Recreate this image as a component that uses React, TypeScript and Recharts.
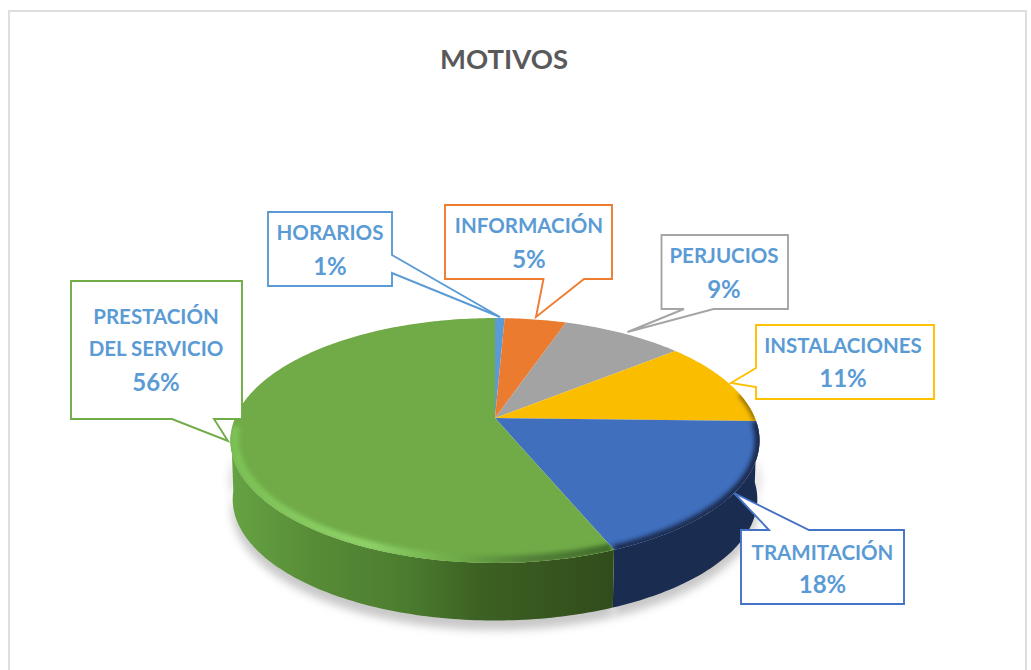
import React from "react";
import { PieChart, Pie } from "recharts";

const categories = ["HORARIOS", "INFORMACIÓN", "PERJUCIOS", "INSTALACIONES", "TRAMITACIÓN", "PRESTACIÓN DEL SERVICIO"];
const values = [0.7, 4.5, 8.9, 11.3, 18.4, 56.2];
const labelLines = [["HORARIOS"], ["INFORMACIÓN"], ["PERJUCIOS"], ["INSTALACIONES"], ["TRAMITACIÓN"], ["PRESTACIÓN", "DEL SERVICIO"]];
const topColors = ["#5B9BD5", "#EA7B2F", "#A3A3A3", "#FABD00", "#406FBE", "#70AB47"];
const borderColors = ["#5B9BD5", "#ED7D31", "#A5A5A5", "#FFC000", "#4472C4", "#70AD47"];
const tableData = categories.map((name, i) => ({ name, value: values[i] }));

// Callout geometry (layout only, not data)
const callouts = [
  { box: [268, 212, 392, 286], ptr: [[392, 273], [500, 317], [392, 255]], tx: 330, ty: [232, 265] },
  { box: [445, 205, 612, 279], ptr: [[584, 279], [536, 317], [543.5, 279]], tx: 529, ty: [225, 258] },
  { box: [661.5, 235, 788, 309], ptr: [[713.6, 309], [627.5, 332], [684, 309]], tx: 724, ty: [255, 288] },
  { box: [756, 325, 934, 399], ptr: [[756, 368], [731, 383], [756, 387]], tx: 843, ty: [345, 377] },
  { box: [741, 530, 904, 604], ptr: [[769, 530], [734, 493], [809, 530]], tx: 822.5, ty: [552, 583] },
  { box: [71, 281, 242, 419], ptr: [[214, 419], [228, 441], [172, 419]], tx: 156, ty: [316, 348, 381] },
];

const K = 0.1837;
const YRATIO = 0.455;
const DEPTH = 59;
const VIS0 = 100.6;
const VIS1 = 259.4;

function proj(cx: number, cy: number, R: number, a: number, r = 1): [number, number] {
  const t = (a * Math.PI) / 180;
  const X = r * Math.sin(t);
  const Y = -r * Math.cos(t);
  const w = 1 - K * Y;
  return [cx + (R * X) / w, cy + (R * YRATIO * Y) / w];
}

function arc(cx: number, cy: number, R: number, a0: number, a1: number, r = 1, dy = 0): [number, number][] {
  const pts: [number, number][] = [];
  const n = Math.max(2, Math.ceil(Math.abs(a1 - a0)));
  for (let i = 0; i <= n; i++) {
    const p = proj(cx, cy, R, a0 + ((a1 - a0) * i) / n, r);
    pts.push([p[0], p[1] + dy]);
  }
  return pts;
}

const toPath = (pts: [number, number][], close = false) =>
  pts.map((p, i) => `${i ? "L" : "M"}${p[0].toFixed(2)},${p[1].toFixed(2)}`).join("") + (close ? "Z" : "");

const ShadowShape = (props: any) => {
  const { cx, cy, outerRadius, startAngle, endAngle, index } = props;
  const a0 = Math.max(90 - startAngle, VIS0 - 10);
  const a1 = Math.min(90 - endAngle, VIS1 + 10);
  if (a1 <= a0) return null;
  const top = arc(cx, cy, outerRadius, a0, a1, 1, DEPTH - 20);
  const bottom = arc(cx, cy, outerRadius, a1, a0, 0.995, DEPTH + 9);
  return (
    <g>
      <defs>
        <filter id={`shadowBlur${index}`} x="-20%" y="-20%" width="140%" height="140%">
          <feGaussianBlur stdDeviation="4" />
        </filter>
      </defs>
      <path d={toPath([...top, ...bottom], true)} fill="#c8c8c8" stroke="none" filter={`url(#shadowBlur${index})`} />
    </g>
  );
};

const WallShape = (props: any) => {
  const { cx, cy, outerRadius, startAngle, endAngle, index } = props;
  const a0 = Math.max(90 - startAngle, VIS0 - 8);
  const a1 = Math.min(90 - endAngle, VIS1 + 4);
  if (a1 <= a0) return null;
  const top = arc(cx, cy, outerRadius, a0, a1, 1, 0);
  const bottom = arc(cx, cy, outerRadius, a1, a0, 0.992, DEPTH);
  const isGreen = index === 5;
  return (
    <g>
      <defs>
        <linearGradient id={`wall${index}`} gradientUnits="userSpaceOnUse" x1="230" y1="0" x2="615" y2="0">
          {isGreen ? (
            <>
              <stop offset="0" stopColor="#66A343" />
              <stop offset="0.22" stopColor="#578C37" />
              <stop offset="0.45" stopColor="#4C7D2F" />
              <stop offset="0.65" stopColor="#3C6123" />
              <stop offset="1" stopColor="#314C1B" />
            </>
          ) : (
            <stop offset="0" stopColor="#1A2C50" />
          )}
        </linearGradient>
      </defs>
      <path d={toPath([...top, ...bottom], true)} fill={`url(#wall${index})`} stroke="none" />
    </g>
  );
};

const TopShape = (props: any) => {
  const { cx, cy, outerRadius, startAngle, endAngle, index } = props;
  const a0 = 90 - startAngle;
  const a1 = 90 - endAngle;
  const rim = arc(cx, cy, outerRadius, a0, a1);
  const d = toPath([[cx, cy], ...rim], true);
  const b0 = Math.max(a0, 78);
  const b1 = Math.min(a1, 266);
  const hasBand = b1 > b0;
  return (
    <g>
      <defs>
        <clipPath id={`topClip${index}`}>
          <path d={d} />
        </clipPath>
        <filter id={`bandBlur${index}`} filterUnits="userSpaceOnUse" x="150" y="250" width="700" height="400">
          <feGaussianBlur stdDeviation="2.2" />
        </filter>
        <linearGradient id={`band${index}`} gradientUnits="userSpaceOnUse" x1="230" y1="0" x2="760" y2="0">
          {index === 5 ? (
            <>
              <stop offset="0" stopColor="#7CC155" />
              <stop offset="0.26" stopColor="#8FD268" />
              <stop offset="0.42" stopColor="#6FAE49" />
              <stop offset="0.55" stopColor="#55843A" />
              <stop offset="0.72" stopColor="#3F6A28" />
            </>
          ) : index === 4 ? (
            <>
              <stop offset="0" stopColor="#1F3560" />
              <stop offset="1" stopColor="#1A2C50" />
            </>
          ) : (
            <>
              <stop offset="0" stopColor="#8A6C00" />
              <stop offset="1" stopColor="#8A6C00" />
            </>
          )}
        </linearGradient>
      </defs>
      <path d={d} fill={topColors[index]} stroke="none" />
      {hasBand && (
        <g clipPath={`url(#topClip${index})`}>
          <path
            d={toPath(arc(cx, cy, outerRadius, b0, b1, index === 5 ? 0.985 : 1.0))}
            fill="none"
            stroke={`url(#band${index})`}
            strokeWidth={index === 5 ? 9 : index === 4 ? 10 : 5}
            filter={`url(#bandBlur${index})`}
          />
        </g>
      )}
    </g>
  );
};

const CalloutLabel = (props: any) => {
  const { index, value } = props;
  const c = callouts[index];
  const [x0, y0, x1, y1] = c.box;
  const stroke = borderColors[index];
  const [p1, tip, p3] = c.ptr;
  // Walk the box clockwise, splicing the pointer into the proper side
  let pts: number[][];
  if (p1[1] === y1 && p3[1] === y1) {
    pts = [[x0, y0], [x1, y0], [x1, y1], p1, tip, p3, [x0, y1]];
  } else if (p1[0] === x1) {
    pts = [[x0, y0], [x1, y0], p3, tip, p1, [x1, y1], [x0, y1]];
  } else if (p1[0] === x0) {
    pts = [[x0, y0], [x1, y0], [x1, y1], [x0, y1], p3, tip, p1];
  } else {
    pts = [[x0, y0], p1, tip, p3, [x1, y0], [x1, y1], [x0, y1]];
  }
  const lines = [...labelLines[index], `${Math.round(value)}%`];
  return (
    <g>
      <path d={toPath(pts as [number, number][], true)} fill="#fff" stroke={stroke} strokeWidth={1.9} strokeLinejoin="miter" />
      {lines.map((t, i) => (
        <text
          key={i}
          x={c.tx}
          y={c.ty[i]}
          textAnchor="middle"
          dominantBaseline="central"
          fontFamily="Lato, 'Open Sans', sans-serif"
          fontWeight={700}
          fontSize={i === lines.length - 1 ? 24 : 20.5}
          fill="#5B9BD5"
        >
          {t}
        </text>
      ))}
    </g>
  );
};

export default function App() {
  const common = {
    data: tableData,
    dataKey: "value",
    nameKey: "name",
    cx: 495,
    cy: 418,
    outerRadius: 260,
    startAngle: 90,
    endAngle: -270,
    isAnimationActive: false,
    labelLine: false,
    stroke: "none",
  };
  return (
    <div style={{ position: "absolute", left: 0, top: 0, width: 1031, height: 670, overflow: "hidden", background: "#fff" }}>
      <div style={{ position: "absolute", left: 8, top: 10, width: 1019, height: 680, border: "2px solid #dedede", boxSizing: "border-box" }} />
      <div
        style={{
          position: "absolute",
          left: 0,
          width: 1008,
          top: 40,
          textAlign: "center",
          fontFamily: "Lato, 'Open Sans', sans-serif",
          fontWeight: 700,
          fontSize: 27.5,
          lineHeight: "38px",
          color: "#595959",
        }}
      >
        MOTIVOS
      </div>
      <div style={{ position: "absolute", left: 0, top: 0 }}>
        <PieChart width={1031} height={670} margin={{ top: 0, right: 0, bottom: 0, left: 0 }}>
          <Pie {...common} shape={ShadowShape} inactiveShape={ShadowShape} />
          <Pie {...common} shape={WallShape} inactiveShape={WallShape} />
          <Pie {...common} shape={TopShape} inactiveShape={TopShape} label={CalloutLabel} />
        </PieChart>
      </div>
    </div>
  );
}
